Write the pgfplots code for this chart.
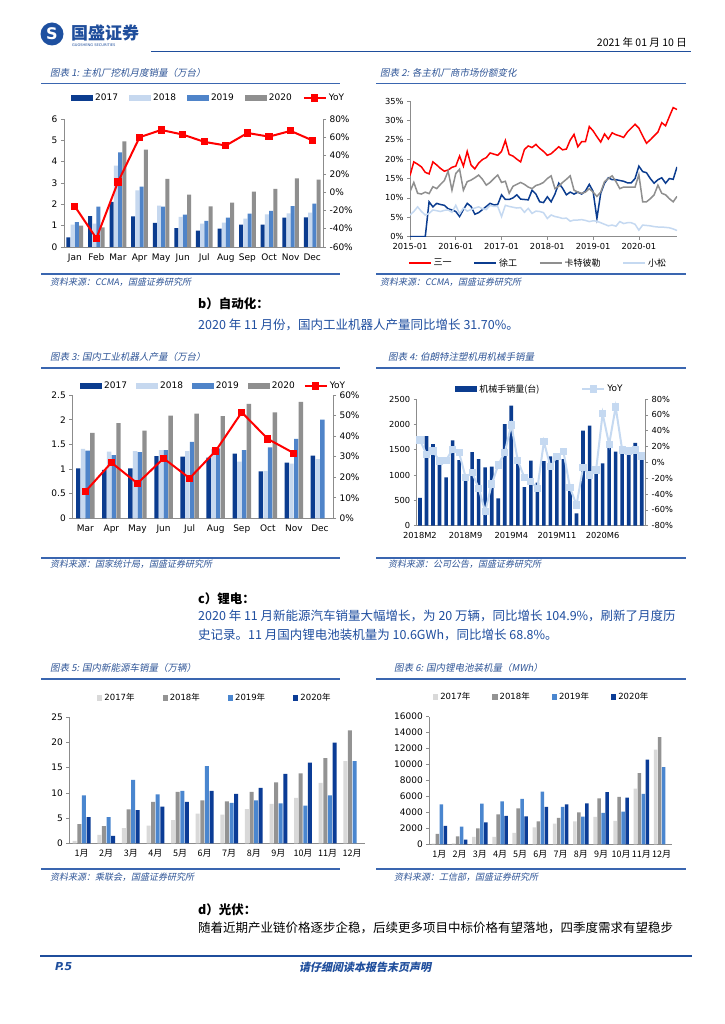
\documentclass[border=0pt]{standalone}
\usepackage{pgfplots}
\pgfplotsset{compat=1.18}
\usepackage{pgfplotstable}
\usepackage{fontspec}
\setmainfont{DejaVu Sans}
\newfontfamily\cjk{Noto Sans CJK SC}
\newfontfamily\cjki[FakeSlant=0.2]{Noto Sans CJK SC}

\definecolor{c17}{HTML}{0B3C8F}
\definecolor{c18}{HTML}{C6D8EF}
\definecolor{c19}{HTML}{4F84C9}
\definecolor{c20}{HTML}{8F8F8F}
\definecolor{e17}{HTML}{D9D9D9}
\definecolor{e18}{HTML}{939393}
\definecolor{e19}{HTML}{4A86CF}
\definecolor{e20}{HTML}{0B3C96}
\definecolor{nred}{HTML}{FF0000}
\definecolor{kom}{HTML}{C5D9F1}
\definecolor{ttl}{HTML}{2F5597}
\definecolor{rule}{HTML}{3A66B0}
\definecolor{hdr}{HTML}{1F4E9C}
\definecolor{bodyb}{HTML}{1F4E9F}
\definecolor{axg}{HTML}{8C8C8C}
\definecolor{logob}{HTML}{1E50A0}

\pgfplotsset{
  base/.style={scale only axis, enlargelimits=false,
    axis line style={axg, line width=0.6pt}, tick style={axg, line width=0.6pt},
    major tick length=3pt, tick align=outside,
    /pgf/number format/assume math mode=true, /pgf/number format/1000 sep={},
    scaled y ticks=false,
    tick label style={font=\fontsize{9}{10}\selectfont},
    legend cell align=left},
  barleg/.style={legend image code/.code={\fill[##1] (0pt,-3pt) rectangle (22pt,3pt);}},
  sqleg/.style={legend image code/.code={\fill[##1] (0pt,-2.6pt) rectangle (5.2pt,2.6pt);}},
  lnleg/.style={legend image code/.code={\draw[##1] (0pt,0pt) -- (22pt,0pt);}},
  mkleg/.style={legend image code/.code={\draw[mark repeat=2,mark phase=2,##1] plot coordinates {(0pt,0pt) (11pt,0pt) (22pt,0pt)};}},
  leg/.style={legend style={draw=none, fill=none, inner sep=0pt,
    font=\fontsize{8.5}{10}\selectfont,
    /tikz/every even column/.append style={column sep=#1}}},
}

% excavator sales (10k units) and YoY %
\pgfplotstableread{
x a b c d y
1 0.45 1.05 1.17 1.00 -15.5
2 1.45 1.10 1.89 0.92 -50.5
3 2.12 3.81 4.44 4.95 11.0
4 1.44 2.66 2.83 4.56 60.0
5 1.13 1.94 1.89 3.19 68.0
6 0.89 1.41 1.52 2.45 63.0
7 0.77 1.09 1.23 1.91 55.0
8 0.86 1.14 1.38 2.08 51.0
9 1.05 1.33 1.56 2.59 64.7
10 1.05 1.53 1.69 2.73 60.7
11 1.38 1.58 1.92 3.22 67.0
12 1.39 1.61 2.03 3.16 56.7
}\tabA

% market share, month 0 = 2015-01
\pgfplotstableread{
m s x c k
0 15.8 0 11.6 5.6
1 19.3 0 14.0 6.5
2 18.7 0 11.2 7.7
3 18.0 0 11.0 6.5
4 16.6 0 11.5 5.6
5 16.2 9.0 11.1 6.0
6 19.3 7.7 12.9 6.9
7 18.5 8.6 12.4 6.7
8 17.6 8.3 13.5 6.5
9 16.9 8.1 14.5 6.8
10 17.2 7.2 16.9 6.9
11 17.9 6.9 12.0 6.3
12 18.2 6.5 16.3 8.1
13 20.8 5.2 17.4 5.9
14 18.2 7.0 12.0 7.4
15 22.0 8.6 14.2 6.6
16 18.5 7.8 14.6 7.0
17 17.5 5.8 15.2 7.4
18 19.0 6.2 15.9 7.7
19 19.9 7.0 14.8 7.2
20 20.4 7.8 13.3 7.0
21 21.6 8.6 14.0 8.1
22 21.3 8.2 15.0 7.8
23 21.0 8.3 15.9 7.8
24 22.0 10.8 14.0 5.2
25 24.8 9.6 14.3 8.1
26 21.2 9.6 11.2 7.8
27 20.8 10.0 13.0 7.6
28 20.0 10.8 13.5 7.4
29 19.3 9.7 14.0 7.5
30 22.5 9.6 13.5 6.3
31 23.4 9.5 12.8 7.3
32 23.0 12.0 12.4 6.0
33 23.8 11.0 13.2 6.6
34 22.8 9.0 13.5 6.5
35 22.0 8.8 14.0 6.2
36 21.0 10.3 15.0 4.7
37 21.4 9.0 15.7 5.6
38 22.3 11.0 12.4 5.2
39 23.2 13.8 13.0 5.0
40 22.4 12.5 14.0 4.7
41 22.6 10.8 14.8 4.8
42 24.9 11.5 15.7 4.0
43 26.4 11.0 12.0 4.3
44 23.2 11.5 11.5 4.3
45 24.5 11.0 11.2 4.4
46 24.5 11.8 11.5 4.2
47 28.4 13.5 12.4 3.9
48 27.3 11.7 11.5 4.1
49 25.8 4.7 10.4 4.0
50 24.4 11.2 11.5 3.6
51 26.5 13.8 14.2 3.2
52 25.2 15.2 15.0 2.8
53 26.8 14.7 15.7 3.0
54 26.3 14.7 14.2 2.7
55 26.0 14.5 12.4 3.9
56 25.6 14.3 12.8 3.4
57 27.0 13.9 12.8 3.6
58 28.0 13.9 12.8 3.6
59 29.0 15.0 12.8 3.2
60 28.0 18.2 16.0 1.7
61 26.0 16.8 9.0 3.0
62 24.1 16.5 9.0 2.9
63 25.0 15.0 9.8 2.8
64 26.0 13.8 10.8 2.6
65 27.0 14.7 13.3 2.5
66 29.4 15.2 11.2 2.5
67 28.6 13.8 10.8 2.4
68 31.0 15.0 9.8 2.3
69 33.3 14.8 9.0 2.0
70 32.8 18.0 10.4 1.6
}\tabB

% industrial robots (10k units), Mar..Dec, YoY %
\pgfplotstableread{
x a b c d y
1 1.01 1.41 1.37 1.73 13.0
2 0.98 1.35 1.28 1.93 27.1
3 1.01 1.36 1.34 1.78 17.0
4 1.26 1.38 1.38 2.08 29.2
5 1.25 1.36 1.55 2.12 19.5
6 1.23 1.41 1.42 2.07 32.8
7 1.31 1.15 1.38 2.32 51.6
8 0.95 0.96 1.44 2.15 38.6
9 1.13 1.11 1.61 2.36 31.7
10 1.27 1.20 2.00 nan nan
}\tabC

% robot arms, 0 = 2018M2
\pgfplotstableread{
i v y
0 550 28.2
1 1770 10.1
2 1612 14.3
3 1350 1.7
4 954 2.5
5 1684 16.4
6 1296 12.2
7 967 -18.9
8 1454 -13.0
9 1316 -32.8
10 1151 -62.3
11 1164 -27.4
12 539 -3.4
13 2006 12.6
14 2368 47.2
15 1260 2.1
16 763 -18.9
17 1283 -24.4
18 850 -32.8
19 1276 26.1
20 1368 -5.5
21 1316 7.2
22 1316 13.5
23 700 -32.0
24 243 -53.9
25 1875 -6.7
26 1974 -16.0
27 1132 -9.7
28 1230 61.5
29 1550 22.7
30 1460 69.9
31 1546 15.6
32 1447 14.3
33 1632 15.6
34 1395 8.0
}\tabD

% NEV sales (10k)
\pgfplotstableread{
x a b c d
1 0.46 3.8 9.5 5.2
2 1.65 3.4 5.2 1.5
3 3.0 6.75 12.6 6.6
4 3.5 8.2 9.7 7.3
5 4.6 10.2 10.4 8.2
6 5.9 8.5 15.3 10.4
7 5.7 8.3 8.0 9.8
8 6.8 10.2 8.5 11.0
9 7.8 12.1 7.9 13.8
10 9.0 13.9 7.5 16.0
11 12.0 16.9 9.5 20.0
12 16.3 22.4 16.3 nan
}\tabE

% battery installations (MWh)
\pgfplotstableread{
x a b c d
1 100 1295 5013 2298
2 125 1003 2214 585
3 919 2005 5097 2757
4 919 3760 5390 3551
5 1420 4512 5682 3510
6 2131 2883 6601 4679
7 2590 3300 4679 5013
8 2883 4011 3468 5139
9 3426 5766 3927 6559
10 2925 5933 4094 5849
11 6977 8941 6309 10612
12 11866 13453 9693 nan
}\tabF

\begin{document}
\begin{tikzpicture}
\path[use as bounding box, fill=white] (0pt,0pt) rectangle (724pt,-1024pt);
\begin{scope}[x=1pt,y=-1pt]
% header
\fill[logob] (52,34) circle (11.5);
\node[text=white, font=\bfseries\fontsize{16}{16}\selectfont, inner sep=0] at (52,34) {S};
\node[anchor=west, inner sep=0, text=hdr, font=\cjk\bfseries\fontsize{17}{17}\selectfont] at (71,33) {国盛证券};
\node[anchor=west, inner sep=0, text=hdr, font=\fontsize{3.6}{4}\selectfont] at (72,45) {GUOSHENG SECURITIES};
\node[anchor=east, inner sep=0, font=\cjk\fontsize{10.5}{11}\selectfont] at (687,42) {2021 年 01 月 10 日};
\draw[hdr, line width=1.6pt] (151,51.5) -- (691,51.5);
% frame rules
\foreach \ya in {83.5, 274, 368, 558, 679, 869} {
  \draw[rule, line width=1.3pt] (41,\ya) -- (340,\ya);
  \draw[rule, line width=1.3pt] (376,\ya) -- (686,\ya);
}
% titles
\begin{scope}[every node/.style={anchor=west, inner sep=0, text=ttl, font=\cjki\fontsize{9.5}{10}\selectfont}]
\node at (50,72.5) {图表 1: 主机厂挖机月度销量（万台）};
\node at (380,72.5) {图表 2: 各主机厂商市场份额变化};
\node at (50,357) {图表 3: 国内工业机器人产量（万台）};
\node at (388,357) {图表 4: 伯朗特注塑机用机械手销量};
\node at (50,668) {图表 5: 国内新能源车销量（万辆）};
\node at (394,668) {图表 6: 国内锂电池装机量（MWh）};
\end{scope}
\begin{scope}[every node/.style={anchor=west, inner sep=0, text=ttl, font=\cjki\fontsize{9}{10}\selectfont}]
\node at (50,282.5) {资料来源：CCMA，国盛证券研究所};
\node at (380,282.5) {资料来源：CCMA，国盛证券研究所};
\node at (50,564) {资料来源：国家统计局，国盛证券研究所};
\node at (388,564) {资料来源：公司公告，国盛证券研究所};
\node at (50,877) {资料来源：乘联会，国盛证券研究所};
\node at (394,877) {资料来源：工信部，国盛证券研究所};
\end{scope}
% body text
\begin{scope}[every node/.style={anchor=west, inner sep=0, font=\cjk\fontsize{12.5}{13}\selectfont}]
\node[font=\cjk\bfseries\fontsize{12.5}{13}\selectfont] at (198,304) {b）自动化：};
\node[text=bodyb] at (198,325) {2020 年 11 月份，国内工业机器人产量同比增长 31.70\%。};
\node[font=\cjk\bfseries\fontsize{12.5}{13}\selectfont] at (198,599) {c）锂电：};
\node[text=bodyb] at (198,616) {2020 年 11 月新能源汽车销量大幅增长，为 20 万辆，同比增长 104.9\%，刷新了月度历};
\node[text=bodyb] at (198,635) {史记录。11 月国内锂电池装机量为 10.6GWh，同比增长 68.8\%。};
\node[font=\cjk\bfseries\fontsize{12.5}{13}\selectfont] at (198,910) {d）光伏：};
\node at (198,928) {随着近期产业链价格逐步企稳，后续更多项目中标价格有望落地，四季度需求有望稳步};
\end{scope}
% footer
\draw[hdr, line width=2pt] (40,955.5) -- (692,955.5);
\node[anchor=west, inner sep=0, text=hdr, font=\bfseries\itshape\fontsize{11}{12}\selectfont] at (55,967) {P.5};
\node[inner sep=0, text=hdr, font=\cjki\bfseries\fontsize{11}{12}\selectfont] at (365,967) {请仔细阅读本报告末页声明};
\end{scope}

% ---------- chart 1 ----------
\begin{axis}[base, at={(64pt,-247pt)}, anchor=south west, width=259pt, height=128pt,
  xmin=0.5, xmax=12.5, ymin=0, ymax=6, ytick={0,1,...,6},
  axis x line*=bottom, axis y line*=left,
  xtick={1,...,12}, xticklabels={Jan,Feb,Mar,Apr,May,Jun,Jul,Aug,Sep,Oct,Nov,Dec},
  x tick style={draw=none},
  ybar=0.2pt, bar width=4pt,
  leg=9pt, legend columns=5,
  legend style={at={(0.027,1.164)}, anchor=west, font=\fontsize{9}{10}\selectfont}]
\addplot[fill=c17, draw=none, barleg] table[x=x,y=a]{\tabA};
\addplot[fill=c18, draw=none, barleg] table[x=x,y=b]{\tabA};
\addplot[fill=c19, draw=none, barleg] table[x=x,y=c]{\tabA};
\addplot[fill=c20, draw=none, barleg] table[x=x,y=d]{\tabA};
\addlegendimage{mkleg, sharp plot, nred, line width=2pt, mark=square*, mark size=2.6pt}
\legend{2017,2018,2019,2020,YoY}
\end{axis}
\begin{axis}[base, at={(64pt,-247pt)}, anchor=south west, width=259pt, height=128pt,
  xmin=0.5, xmax=12.5, ymin=-60, ymax=80, ytick={-60,-40,...,80},
  axis y line*=right, axis x line=none,
  yticklabel={\pgfmathprintnumber{\tick}\%}]
\addplot[nred, line width=2pt, mark=square*, mark size=2.6pt] table[x=x,y=y]{\tabA};
\end{axis}

% ---------- chart 2 ----------
\begin{axis}[base, at={(410pt,-236.7pt)}, anchor=south west, width=267pt, height=135.7pt,
  xmin=0, xmax=70, ymin=0, ymax=35, ytick={0,5,...,35},
  yticklabel={\pgfmathprintnumber{\tick}\%},
  axis x line*=bottom, axis y line*=left,
  xtick={0,12,24,36,48,60}, xticklabels={2015-01,2016-01,2017-01,2018-01,2019-01,2020-01},
  tick label style={font=\fontsize{8.3}{10}\selectfont},
  leg=20pt, legend columns=4,
  legend style={at={(0.48,-0.194)}, anchor=center, font=\cjk\fontsize{9}{10}\selectfont}]
\addplot[nred, line width=1.5pt, lnleg] table[x=m,y=s]{\tabB};
\addplot[c17, line width=1.5pt, lnleg] table[x=m,y=x]{\tabB};
\addplot[c20, line width=1.5pt, lnleg] table[x=m,y=c]{\tabB};
\addplot[kom, line width=1.5pt, lnleg] table[x=m,y=k]{\tabB};
\legend{三一,徐工,卡特彼勒,小松}
\end{axis}

% ---------- chart 3 ----------
\begin{axis}[base, at={(72.3pt,-518.3pt)}, anchor=south west, width=260.7pt, height=123.3pt,
  xmin=0.5, xmax=10.5, ymin=0, ymax=2.5, ytick={0,0.5,...,2.5},
  axis x line*=bottom, axis y line*=left,
  xtick={1,...,10}, xticklabels={Mar,Apr,May,Jun,Jul,Aug,Sep,Oct,Nov,Dec},
  x tick style={draw=none},
  ybar=0.3pt, bar width=4.4pt,
  leg=7pt, legend columns=5,
  legend style={at={(0.0295,1.073)}, anchor=west, font=\fontsize{9}{10}\selectfont}]
\addplot[fill=c17, draw=none, barleg] table[x=x,y=a]{\tabC};
\addplot[fill=c18, draw=none, barleg] table[x=x,y=b]{\tabC};
\addplot[fill=c19, draw=none, barleg] table[x=x,y=c]{\tabC};
\addplot[fill=c20, draw=none, barleg] table[x=x,y=d]{\tabC};
\addlegendimage{mkleg, sharp plot, nred, line width=2pt, mark=square*, mark size=2.6pt}
\legend{2017,2018,2019,2020,YoY}
\end{axis}
\begin{axis}[base, at={(72.3pt,-518.3pt)}, anchor=south west, width=260.7pt, height=123.3pt,
  xmin=0.5, xmax=10.5, ymin=0, ymax=60, ytick={0,10,...,60},
  axis y line*=right, axis x line=none,
  yticklabel={\pgfmathprintnumber{\tick}\%}]
\addplot[nred, line width=2pt, mark=square*, mark size=2.6pt] table[x=x,y=y]{\tabC};
\end{axis}

% ---------- chart 4 ----------
\begin{axis}[base, at={(416.7pt,-525.7pt)}, anchor=south west, width=228.3pt, height=126.7pt,
  xmin=-0.5, xmax=34.5, ymin=0, ymax=2500, ytick={0,500,...,2500},
  axis x line*=bottom, axis y line*=left,
  xtick={0,7,14,21,28}, xticklabels={2018M2,2018M9,2019M4,2019M11,2020M6},
  x tick style={draw=none},
  tick label style={font=\fontsize{8.3}{10}\selectfont},
  ybar, bar width=3.6pt,
  leg=40pt, legend columns=2,
  legend style={at={(0.168,1.079)}, anchor=west, font=\fontsize{9}{10}\selectfont}]
\addplot[fill=c17, draw=none, barleg] table[x=i,y=v]{\tabD};
\addlegendimage{mkleg, sharp plot, kom, line width=2pt, mark=square*, mark size=2.6pt}
\legend{{\cjk 机械手销量(台)},YoY}
\end{axis}
\begin{axis}[base, at={(416.7pt,-525.7pt)}, anchor=south west, width=228.3pt, height=126.7pt,
  xmin=-0.5, xmax=34.5, ymin=-80, ymax=80, ytick={-80,-60,...,80},
  axis y line*=right, axis x line=none,
  tick label style={font=\fontsize{8.3}{10}\selectfont},
  yticklabel={\pgfmathprintnumber{\tick}\%}]
\addplot[kom, line width=2pt, mark=square*, mark size=2.6pt] table[x=i,y=y]{\tabD};
\end{axis}

% ---------- chart 5 ----------
\begin{axis}[base, at={(69.3pt,-843.3pt)}, anchor=south west, width=295.2pt, height=126pt,
  xmin=0.5, xmax=12.5, ymin=0, ymax=25, ytick={0,5,...,25},
  axis x line*=bottom, axis y line*=left,
  xtick={1,...,12}, xticklabels={1月,2月,3月,4月,5月,6月,7月,8月,9月,10月,11月,12月},
  x tick style={draw=none},
  xticklabel style={font=\cjk\fontsize{9}{10}\selectfont},
  yticklabel style={font=\fontsize{9}{10}\selectfont},
  ybar=0.6pt, bar width=4pt,
  leg=26pt, legend columns=4,
  legend style={at={(0.094,1.153)}, anchor=west}]
\addplot[fill=e17, draw=none, sqleg] table[x=x,y=a]{\tabE};
\addplot[fill=e18, draw=none, sqleg] table[x=x,y=b]{\tabE};
\addplot[fill=e19, draw=none, sqleg] table[x=x,y=c]{\tabE};
\addplot[fill=e20, draw=none, sqleg] table[x=x,y=d]{\tabE};
\legend{2017{\cjk 年},2018{\cjk 年},2019{\cjk 年},2020{\cjk 年}}
\end{axis}

% ---------- chart 6 ----------
\begin{axis}[base, at={(429.3pt,-844.3pt)}, anchor=south west, width=242.4pt, height=127.6pt,
  xmin=0.5, xmax=12.5, ymin=0, ymax=16000, ytick={0,2000,...,16000},
  axis x line*=bottom, axis y line*=left,
  xtick={1,...,12}, xticklabels={1月,2月,3月,4月,5月,6月,7月,8月,9月,10月,11月,12月},
  x tick style={draw=none},
  xticklabel style={font=\cjk\fontsize{9}{10}\selectfont},
  yticklabel style={font=\fontsize{9}{10}\selectfont},
  ybar=0.5pt, bar width=3.5pt,
  leg=20pt, legend columns=4,
  legend style={at={(0.015,1.154)}, anchor=west}]
\addplot[fill=e17, draw=none, sqleg] table[x=x,y=a]{\tabF};
\addplot[fill=e18, draw=none, sqleg] table[x=x,y=b]{\tabF};
\addplot[fill=e19, draw=none, sqleg] table[x=x,y=c]{\tabF};
\addplot[fill=e20, draw=none, sqleg] table[x=x,y=d]{\tabF};
\legend{2017{\cjk 年},2018{\cjk 年},2019{\cjk 年},2020{\cjk 年}}
\end{axis}
\end{tikzpicture}
\end{document}
